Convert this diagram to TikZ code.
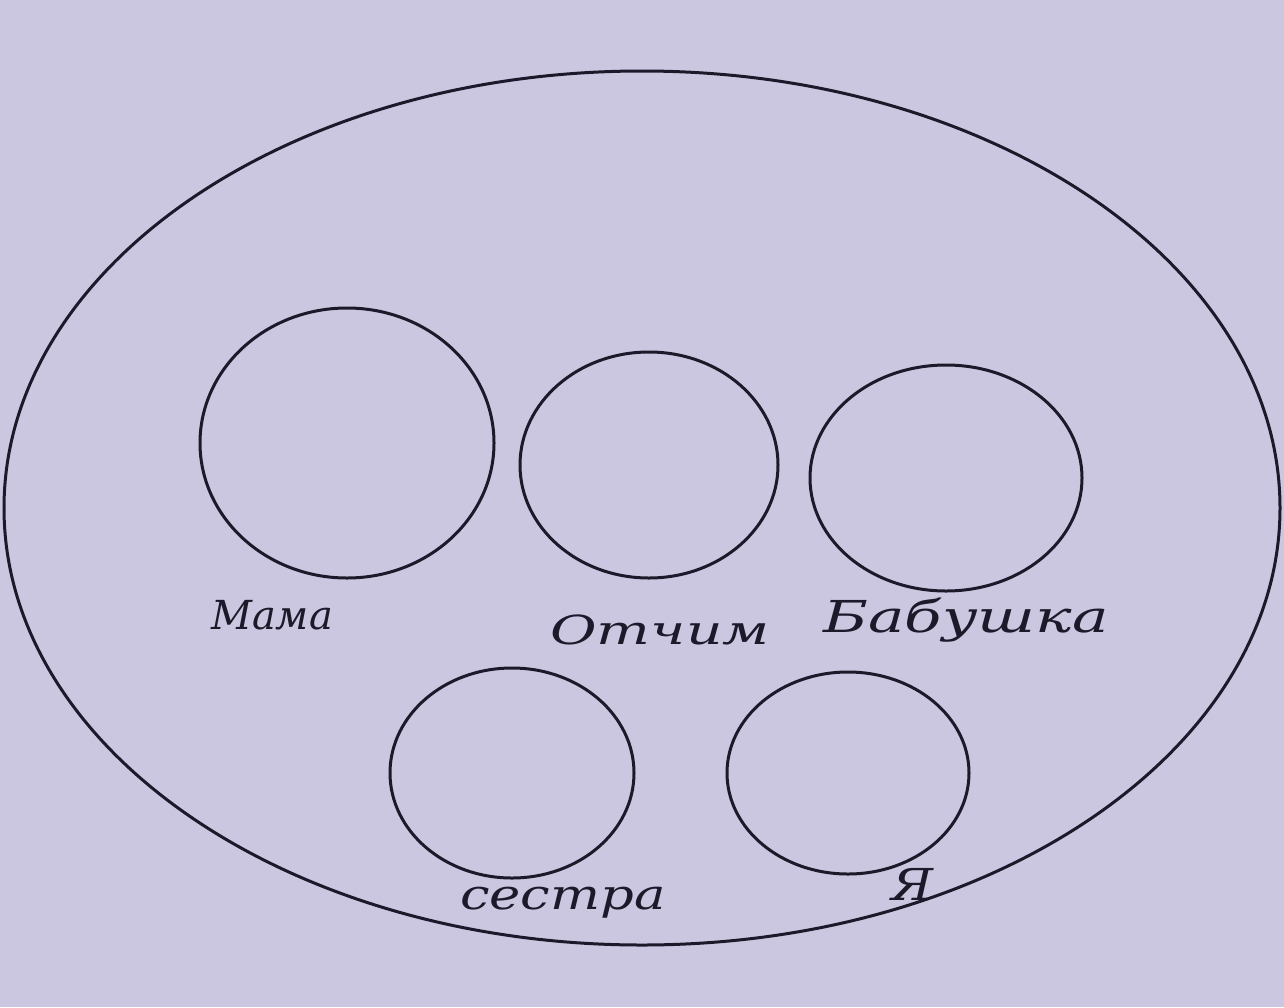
\documentclass[tikz,border=0pt]{standalone}
\usepackage{fontspec}
\setmainfont{DejaVu Serif}
\usetikzlibrary{shapes.geometric}
\definecolor{paper}{HTML}{CBC7E0}
\definecolor{ink}{HTML}{1C1A2A}
\tikzset{
  x=1pt, y=-1pt,
  person/.style={draw=ink, line width=3pt, ellipse, inner sep=0pt},
  lbl/.style={text=ink, font=\itshape\fontsize{40}{46}\selectfont, inner sep=0pt},
}
\begin{document}
\begin{tikzpicture}
\fill[paper] (0,0) rectangle (1284,1007);
\useasboundingbox (0,0) rectangle (1284,1007);
\node[person, minimum width=1276pt, minimum height=874pt] (family) at (642,508) {};
\node[person, minimum width=294pt, minimum height=270pt] (mama) at (347,443) {};
\node[person, minimum width=258pt, minimum height=226pt] (otchim) at (649,465) {};
\node[person, minimum width=272pt, minimum height=226pt] (babushka) at (946,478) {};
\node[person, minimum width=244pt, minimum height=210pt] (sestra) at (512,773) {};
\node[person, minimum width=242pt, minimum height=202pt] (ya) at (848,773) {};
\node[lbl] (lmama) at (272,615) {Мама};
\node[lbl] (lotchim) at (660,630) {\scalebox{1.42}[1]{Отчим}};
\node[lbl] (lbabushka) at (966,620) {\scalebox{1.53}[1.1]{Бабушка}};
\node[lbl] (lsestra) at (563,903) {\scalebox{1.32}[1.05]{сестра}};
\node[lbl] (lya) at (912,884) {\scalebox{1.3}[1.1]{Я}};
\end{tikzpicture}
\end{document}
